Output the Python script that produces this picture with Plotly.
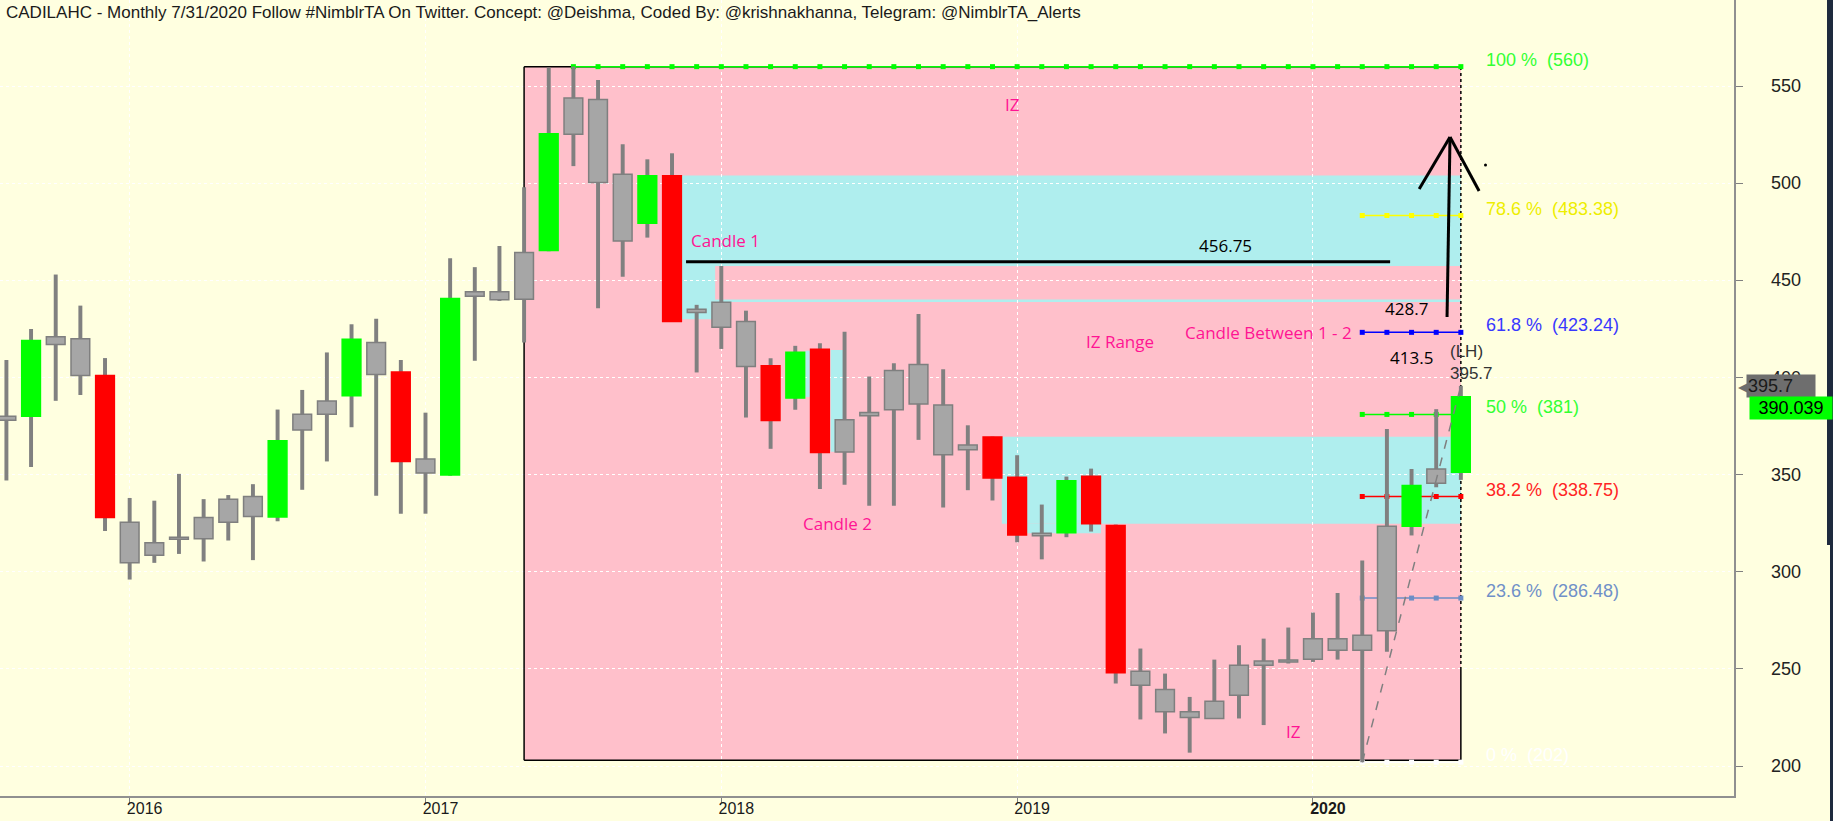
import pandas as pd
import plotly.graph_objects as go

# monthly candles, Aug 2015 .. Jul 2020
months = pd.date_range("2015-08-01", periods=60, freq="MS").strftime("%Y-%m").tolist()

open_ = [378, 380, 417, 420, 401, 325.5, 308.5, 316.8, 317, 325.5,
         338.8, 328.2, 373, 381.1, 390.6, 418, 402.8, 358, 349.8, 441.8,
         440, 440.3, 465.4, 525.2, 543.1, 504.6, 479.4, 503.9, 433.4, 438.7,
         428.8, 406, 389.4, 414.6, 361.6, 380.3, 383.4, 406.7, 385.8, 362.8,
         369.4, 348.7, 318.5, 320.1, 349.2, 323.8, 248.8, 239.4, 227.9, 224.5,
         236.5, 251.9, 253.6, 255, 265.6, 259.6, 269.6, 323.5, 345.6, 351.2]
high = [409, 425, 453, 437, 410, 338, 336.6, 350.4, 337.4, 339.5,
        345.1, 383.5, 393.6, 412.9, 427.4, 430.3, 409, 381.9, 461.4, 456.8,
        467.7, 497.9, 559.5, 560, 553.1, 520, 512.3, 515.4, 437.4, 457.4,
        434.4, 409.9, 416.3, 417.6, 423.6, 400.5, 407.4, 432.7, 404.3, 375.4,
        369.6, 360, 334.6, 349, 353.1, 324.3, 260.5, 247.6, 235.6, 254.8,
        262.2, 265.6, 271.3, 279, 289.1, 305.8, 373.5, 352.9, 383.7, 395.7]
low = [347, 354, 388, 391, 321, 296, 304.6, 309.2, 305.3, 316.1,
       306, 326, 342.2, 356.8, 374.4, 339.2, 329.9, 329.9, 349.4, 408.6,
       439.4, 418, 465, 508.8, 435.6, 451.9, 472, 428.7, 402.6, 414.7,
       379.4, 363.3, 383.4, 342.6, 344.8, 334, 334, 367.9, 333.1, 342,
       336.7, 315.2, 306.4, 317.8, 320.7, 242.5, 224, 216.8, 206.9, 224.5,
       224.5, 221.1, 252.8, 253.6, 254.8, 202, 258.8, 318.7, 343.5, 347.3]
close = [380, 419, 421, 401, 328, 304.6, 314.9, 317.8, 328, 337.3,
         328.5, 367.4, 381.1, 387.9, 419.7, 401.6, 356.8, 350.8, 440.6, 444.2,
         444.2, 464.4, 525.4, 543.8, 500.4, 470.3, 503.9, 428.8, 435.1, 425.9,
         405.6, 377.9, 413, 361.4, 378.2, 382, 403.6, 386.4, 360.2, 365.2,
         348.3, 318.9, 319.9, 346.9, 324.7, 248, 241.6, 227.9, 225, 233.4,
         251.9, 254.1, 254.6, 265.6, 259.6, 267.3, 323.5, 344.4, 352.9, 390.039]
# N = neutral (grey), G = green, R = red
candle_type = list("NGNNRNNNNN" "NGNNGNRNGN" "NNGNNNGRNN"
                   "NRGRNNNNNN" "RRNGRRNNNN" "NNNNNNNGNG")

fib_pct = ["100 %", "78.6 %", "61.8 %", "50 %", "38.2 %", "23.6 %", "0 %"]
fib_val = [560, 483.38, 423.24, 381, 338.75, 286.48, 202]
fib_start = [23, 55, 55, 55, 55, 55, 55]
fib_line = ["#00FF00", "#FFFF00", "#0000FF", "#00FF00", "#FF0000", "#6C8EC6", "#FFFFFF"]
fib_text = ["#33FF33", "#EEEE00", "#3838FF", "#33FF33", "#FF2424", "#7090C8", "#FFFFFF"]

year_ticks = ["2016-01", "2017-01", "2018-01", "2019-01", "2020-01"]
year_text = ["2016", "2017", "2018", "2019", "<b>2020</b>"]
price_ticks = [200, 250, 300, 350, 400, 450, 500, 550]

fill = {"N": "#A6A6A6", "G": "#00FF00", "R": "#FF0000"}
edge = {"N": "#7F7F7F", "G": "#00FF00", "R": "#FF0000"}

PINK = "#FFC0CB"
CYAN = "#AFEEEE"
HOT = "#FF1493"
BG = "#FFFFE0"
FONT = "Liberation Sans, Arial, sans-serif"
NARROW = "Liberation Sans Narrow, Arial Narrow, Liberation Sans, Arial"

body_base = [min(o, c) for o, c in zip(open_, close)]
body_h = [max(abs(c - o), 0.8) for o, c in zip(open_, close)]

fig = go.Figure()
fig.add_trace(go.Bar(x=months, y=[h - l for h, l in zip(high, low)], base=low,
                     width=0.16, marker_color="#808080", marker_line_width=0,
                     hoverinfo="skip"))
fig.add_trace(go.Bar(x=months, y=body_h, base=body_base, width=0.76,
                     marker_color=[fill[t] for t in candle_type],
                     marker_line_color=[edge[t] for t in candle_type],
                     marker_line_width=1.5,
                     customdata=list(zip(open_, high, low, close)),
                     hovertemplate="%{x}<br>O %{customdata[0]}<br>H %{customdata[1]}"
                                   "<br>L %{customdata[2]}<br>C %{customdata[3]}<extra></extra>"))
# swing line from the low to the lower high
fig.add_trace(go.Scatter(x=[months[55], months[59]], y=[low[55], high[59]], mode="lines",
                         line=dict(color="#808080", width=1.5, dash="dash"), hoverinfo="skip"))
# stray dot
fig.add_trace(go.Scatter(x=[62.0], y=[509.4], mode="markers",
                         marker=dict(color="black", size=3), hoverinfo="skip"))

shapes = []
# IZ zone and cyan zones
shapes.append(dict(type="rect", x0=21, x1=59, y0=203, y1=560, fillcolor=PINK, line_width=0, layer="below"))
for x0, x1, y0, y1 in [(27.36, 59, 457.4, 504), (27.36, 28.75, 430, 457.4), (28.75, 59, 438.8, 440.2),
                       (32.41, 32.67, 390, 413.8), (33.44, 33.95, 361.8, 414.1),
                       (40.38, 59, 324.7, 369.5), (41.39, 44.4, 319.8, 324.7)]:
    shapes.append(dict(type="rect", x0=x0, x1=x1, y0=y0, y1=y1, fillcolor=CYAN, line_width=0, layer="below"))
# IZ borders
for x0, x1, y0, y1 in [(21, 21, 203, 560), (21, 59, 560, 560), (21, 59, 203, 203), (59, 59, 203, 249.5)]:
    shapes.append(dict(type="line", x0=x0, x1=x1, y0=y0, y1=y1, line=dict(color="black", width=1.5), layer="between"))
shapes.append(dict(type="line", x0=59, x1=59, y0=249.5, y1=560,
                   line=dict(color="black", width=1.5, dash="dot"), layer="between"))
# fibonacci levels with a square on every month
for val, start, col in zip(fib_val, fib_start, fib_line):
    shapes.append(dict(type="line", x0=start, x1=59, y0=val, y1=val, line=dict(color=col, width=1.5), layer="between"))
    for i in range(start, 60):
        shapes.append(dict(type="rect", xsizemode="pixel", ysizemode="pixel", xanchor=i, yanchor=val,
                           x0=-2.5, x1=2.5, y0=-2.5, y1=2.5, fillcolor=col, line_width=0, layer="between"))
# hand drawn line and arrow
for x0, x1, y0, y1 in [(27.57, 56.13, 459.6, 459.6), (58.44, 58.56, 431.1, 523.8),
                       (58.56, 57.31, 523.8, 497.0), (58.56, 59.74, 523.8, 496.0)]:
    shapes.append(dict(type="line", x0=x0, x1=x1, y0=y0, y1=y1, line=dict(color="black", width=3), layer="above"))
# window border at the far right
shapes.append(dict(type="rect", xref="paper", yref="paper", x0=1827 / 1734, x1=1833 / 1734, y0=1 - 545 / 796, y1=1,
                   fillcolor="#1E2A3E", line_width=0))
shapes.append(dict(type="rect", xref="paper", yref="paper", x0=1830 / 1734, x1=1833 / 1734, y0=-0.04, y1=1 - 545 / 796,
                   fillcolor="#1E2A3E", line_width=0))

ann = []
ann.append(dict(xref="paper", yref="paper", x=0, y=1, xanchor="left", yanchor="top", xshift=4, yshift=-1,
                showarrow=False, font=dict(family=FONT, size=17, color="#1A1A1A"),
                text="CADILAHC - Monthly 7/31/2020 Follow #NimblrTA On Twitter. Concept: @Deishma, "
                     "Coded By: @krishnakhanna, Telegram: @NimblrTA_Alerts"))
# price scale labels, set off from the axis like the original platform
for p in price_ticks:
    ann.append(dict(xref="paper", x=1769 / 1734, y=p, xanchor="left", yanchor="middle", showarrow=False,
                    text=str(p), font=dict(family=FONT, size=18, color="#222222")))
for pct, val, col in zip(fib_pct, fib_val, fib_text):
    ann.append(dict(x=59.94, y=val, xanchor="left", yanchor="middle", yshift=7, showarrow=False,
                    text=f"{pct}\u00a0\u00a0({val:g})", font=dict(family=FONT, size=18, color=col)))
for txt, x, y, col in [("IZ", 40.8, 540.3, HOT), ("Candle 1", 29.15, 470.4, HOT), ("Candle 2", 33.7, 325.1, HOT),
                       ("IZ Range", 45.18, 418.6, HOT), ("Candle Between 1 - 2", 51.2, 423.4, HOT),
                       ("IZ", 52.2, 217.6, HOT), ("456.75", 49.44, 468.0, "black"),
                       ("428.7", 56.78, 435.3, "black"), ("413.5", 56.98, 410.1, "black")]:
    ann.append(dict(x=x, y=y, showarrow=False, text=txt, font=dict(family="Open Sans, Noto Sans", size=17, color=col)))
ann.append(dict(x=59.45, y=407.8, showarrow=False, text="(LH)<br>395.7", align="left",
                font=dict(family=FONT, size=17, color="#333333")))
# last price tags on the axis
ann.append(dict(xref="paper", x=1736 / 1734, y=high[59], xanchor="left", yanchor="middle", showarrow=False,
                text="\u25c0", font=dict(family="DejaVu Sans", size=19, color="#6E6E6E")))
ann.append(dict(xref="paper", x=1746 / 1734, y=high[59], xanchor="left", yanchor="middle", showarrow=False,
                text=f"{high[59]:g}", bgcolor="#6E6E6E", borderpad=1, width=66, align="left",
                font=dict(family=FONT, size=18, color="#1A1A1A")))
ann.append(dict(xref="paper", x=1749 / 1734, y=close[59], xanchor="left", yanchor="middle", yshift=-11,
                showarrow=False, text=f"{close[59]:g}", bgcolor="#00FF00", borderpad=1, width=80,
                font=dict(family=FONT, size=18, color="#000000")))

fig.update_layout(
    width=1833, height=821,
    margin=dict(l=0, r=99, t=0, b=25),
    paper_bgcolor=BG, plot_bgcolor=BG,
    barmode="overlay", showlegend=False,
    shapes=shapes, annotations=ann,
)
fig.update_xaxes(type="category", range=[-0.26, 70.08], tickvals=year_ticks, ticktext=year_text,
                 ticks="outside", ticklen=5, tickcolor="#808080", ticklabelshift=15, ticklabelstandoff=-8,
                 showline=True, linecolor="#909090", linewidth=1.5, automargin=False,
                 showgrid=True, gridcolor="white", griddash="dot", gridwidth=1,
                 tickfont=dict(family=NARROW, size=16, color="#1A1A1A"))
fig.update_yaxes(side="right", range=[184.6, 594.3], tickvals=price_ticks, showticklabels=False,
                 ticks="outside", ticklen=7, tickcolor="#808080",
                 showline=True, linecolor="#909090", linewidth=1.5, zeroline=False, automargin=False,
                 showgrid=True, gridcolor="white", griddash="dot", gridwidth=1)

fig.write_html("out.html", config={"displayModeBar": False},
               post_script="document.body.style.margin='0';")
